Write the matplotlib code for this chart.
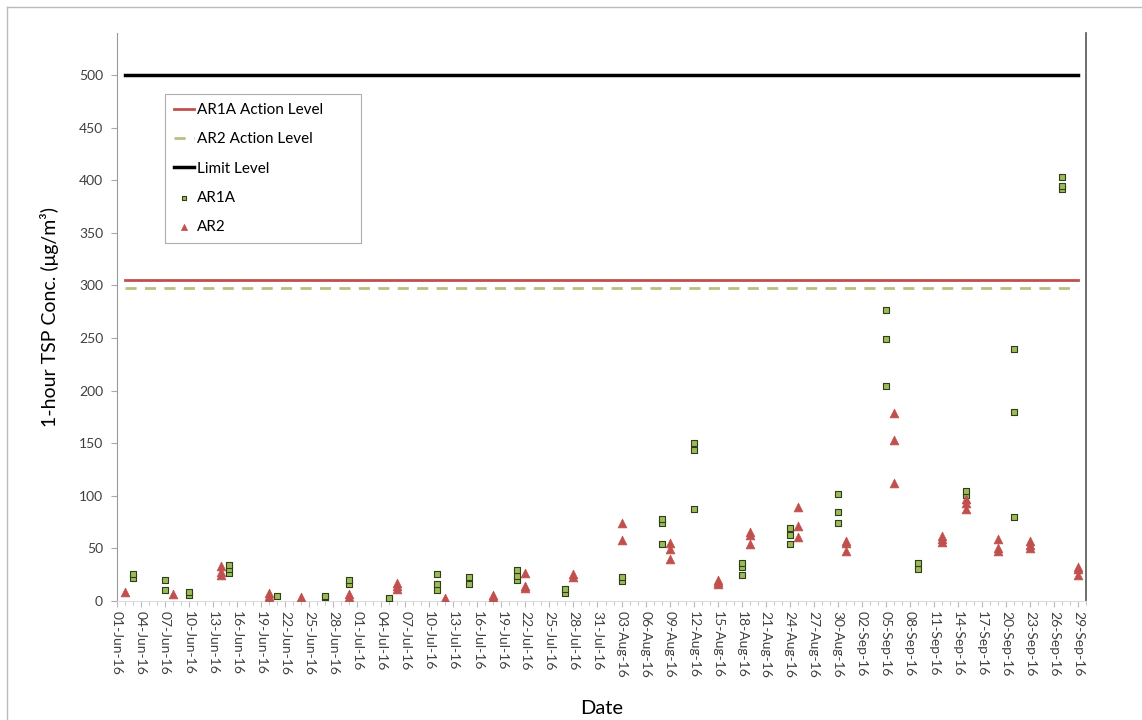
import matplotlib
matplotlib.use("Agg")
import matplotlib.pyplot as plt
import matplotlib.dates as mdates
import numpy as np
import pandas as pd
from matplotlib.lines import Line2D

plt.rcParams['font.family'] = ['Lato', 'DejaVu Sans']

# AR1A readings: (date, values)
ar1a_dates = ["2016-06-03", "2016-06-07", "2016-06-10", "2016-06-15", "2016-06-21",
              "2016-06-27", "2016-06-30", "2016-07-05", "2016-07-11", "2016-07-15",
              "2016-07-21", "2016-07-27", "2016-08-03", "2016-08-08", "2016-08-12",
              "2016-08-18", "2016-08-24", "2016-08-30", "2016-09-05", "2016-09-09",
              "2016-09-15", "2016-09-21", "2016-09-27"]
ar1a_vals = [[22, 26], [10, 20], [6, 9], [27, 30, 34], [5],
             [4, 5], [16, 20], [2, 3], [10, 16, 26], [16, 23],
             [20, 24, 29], [8, 11], [19, 23], [54, 74, 78], [87, 144, 150],
             [25, 32, 36], [54, 63, 69], [74, 85, 102], [204, 249, 277], [30, 36],
             [101, 105], [80, 180, 240], [392, 395, 403]]

# AR2 readings
ar2_dates = ["2016-06-02", "2016-06-08", "2016-06-14", "2016-06-20", "2016-06-24",
             "2016-06-30", "2016-07-06", "2016-07-12", "2016-07-18", "2016-07-22",
             "2016-07-28", "2016-08-03", "2016-08-09", "2016-08-15", "2016-08-19",
             "2016-08-25", "2016-08-31", "2016-09-06", "2016-09-12", "2016-09-15",
             "2016-09-19", "2016-09-23", "2016-09-29"]
ar2_vals = [[9], [7], [25, 28, 33], [3, 5, 8], [4],
            [4, 7], [11, 14, 17], [3], [1, 4, 6], [12, 14, 27],
            [23, 26], [58, 74], [40, 49, 55], [16, 18, 20], [54, 63, 66],
            [61, 71, 89], [48, 55, 57], [112, 153, 179], [56, 59, 62], [87, 93, 97],
            [48, 50, 59], [50, 53, 57], [25, 30, 32]]

ar1a_action = 305.5
ar2_action = 297.7
limit_level = 500
line_start, line_end = "2016-06-02", "2016-09-29"


def flatten(dates, vals):
    xs, ys = [], []
    for d, vs in zip(dates, vals):
        for v in vs:
            xs.append(pd.Timestamp(d))
            ys.append(v)
    return xs, ys


fig = plt.figure(figsize=(11.42, 7.2), dpi=100)
ax = fig.add_axes([117 / 1142, 1 - 601 / 720, 969 / 1142, 568 / 720])

# outer chart border
fig.add_artist(Line2D([7 / 1142, 1], [1 - 7 / 720, 1 - 7 / 720], color="#bbbbbb", lw=1))
fig.add_artist(Line2D([7 / 1142, 7 / 1142], [0, 1 - 7 / 720], color="#bbbbbb", lw=1))

lx = [pd.Timestamp(line_start), pd.Timestamp(line_end)]
ax.plot(lx, [ar1a_action] * 2, color="#c0504d", lw=2, label="AR1A Action Level")
ax.plot(lx, [ar2_action] * 2, color="#b4c27f", lw=2, ls=(0, (4, 3)), label="AR2 Action Level")
ax.plot(lx, [limit_level] * 2, color="black", lw=2.5, label="Limit Level")

x1, y1 = flatten(ar1a_dates, ar1a_vals)
x2, y2 = flatten(ar2_dates, ar2_vals)
ax.scatter(x1, y1, marker="s", s=15, facecolor="#9bbb59", edgecolor="#2f3d18",
           linewidths=0.8, label="AR1A", zorder=3)
ax.scatter(x2, y2, marker="^", s=40, facecolor="#c0504d", edgecolor="#c0504d",
           linewidths=0.5, label="AR2", zorder=3)

ax.set_xlim(pd.Timestamp("2016-06-01"), pd.Timestamp("2016-09-30"))
ax.set_ylim(0, 540)
ax.set_yticks(np.arange(0, 501, 50))

ax.xaxis.set_minor_locator(mdates.DayLocator())
ax.xaxis.set_major_formatter(mdates.DateFormatter("%d-%b-%y"))
ax.set_xticks(pd.date_range("2016-06-01", "2016-09-29", freq="3D"))
plt.setp(ax.get_xticklabels(), rotation=270, ha="center", va="top")

ax.tick_params(axis="both", labelsize=10, colors="#404040", length=4, color="#aaaaaa")
ax.tick_params(axis="y", pad=6)
ax.tick_params(axis="x", which="minor", length=3, color="#bbbbbb")
ax.tick_params(axis="x", which="major", length=4, color="#bbbbbb", pad=3)

ax.spines["top"].set_visible(False)
ax.spines["left"].set_color("#999999")
ax.spines["bottom"].set_color("#dddddd")
ax.spines["right"].set_color("#555555")
ax.spines["right"].set_linewidth(1.2)

ax.set_ylabel("1-hour TSP Conc. (μg/m³)", fontsize=14, color="black", labelpad=14)
ax.set_xlabel("Date", fontsize=14.5, color="black", labelpad=16)

leg = ax.legend(loc="upper left", bbox_to_anchor=(0.0496, 0.625, 0.2027, 0.2676),
                mode="expand", fontsize=11,
                frameon=True, fancybox=False, edgecolor="#999999", borderpad=0.6,
                labelspacing=1.0, handlelength=1.3, handletextpad=0.2,
                borderaxespad=0, markerscale=0.7)
leg.get_frame().set_linewidth(0.8)

fig.savefig("out.png", dpi=100)
